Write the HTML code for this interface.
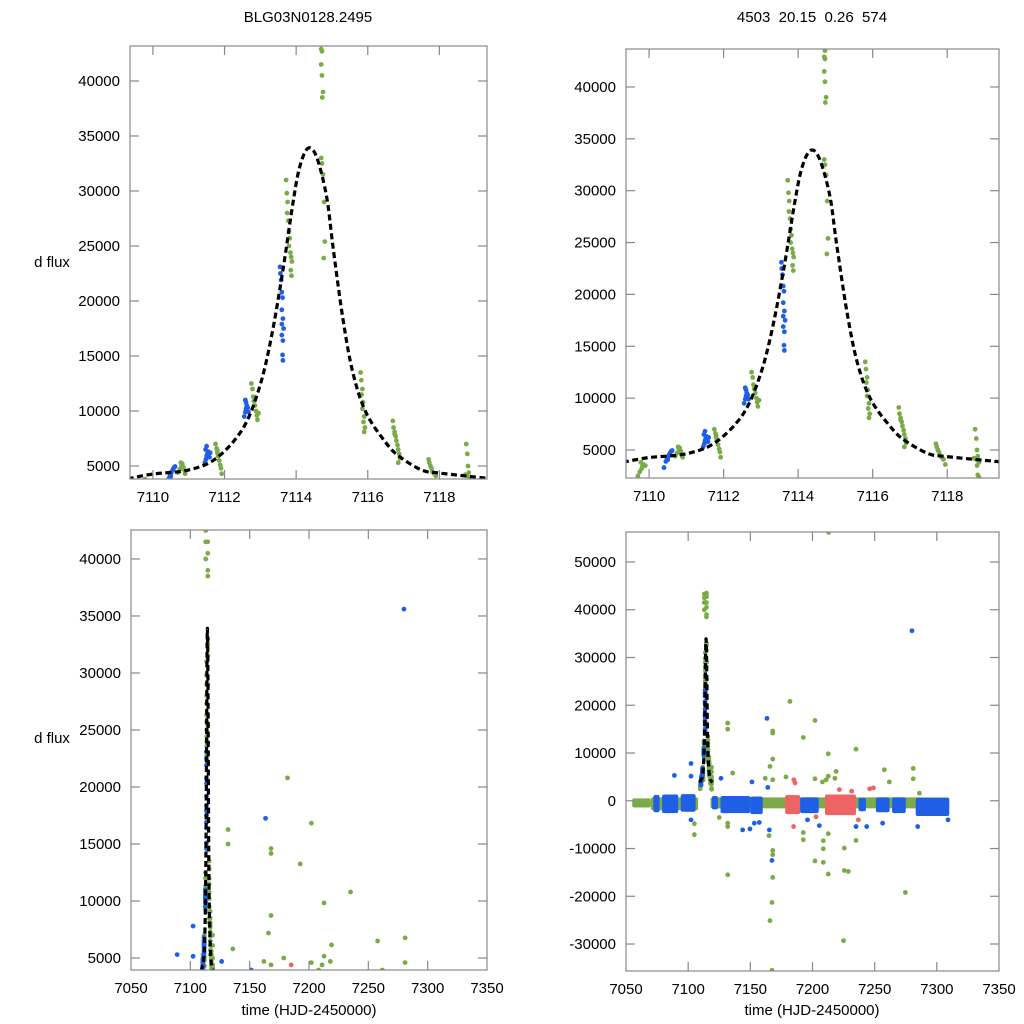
<!DOCTYPE html>
<html><head><meta charset="utf-8"><style>
html,body{margin:0;background:#fff;width:1024px;height:1024px;overflow:hidden}
svg{display:block;font-family:"Liberation Sans",sans-serif}
</style></head><body>
<svg id="chart" width="1024" height="1024" viewBox="0 0 1024 1024">
<rect width="1024" height="1024" fill="#fff"/>
<text x="308" y="22" text-anchor="middle" font-size="15">BLG03N0128.2495</text>
<text x="812" y="22" text-anchor="middle" font-size="15" xml:space="preserve">4503  20.15  0.26  574</text>
<text x="52" y="267" text-anchor="middle" font-size="15">d flux</text>
<text x="52" y="743" text-anchor="middle" font-size="15">d flux</text>
<text x="309" y="1015" text-anchor="middle" font-size="15">time (HJD-2450000)</text>
<text x="812" y="1015" text-anchor="middle" font-size="15">time (HJD-2450000)</text>
</svg>
<script>
// model curve
const modelT=[7109.3,7109.4,7110,7111,7111.78,7112.52,7112.98,7113.31,7113.63,7113.91,7114.1,7114.33,7114.57,7114.85,7115.03,7115.31,7115.59,7115.96,7116.52,7116.89,7117.5,7118,7119.3,7119.5];
const modelF=[3850,3900,4270,4640,5730,8450,12200,16750,22800,28900,32200,33880,33100,29500,24900,18300,13400,9800,7060,5850,4640,4360,3900,3850];
// event points (t,f)
const blueEvent=[[7110.40,3300],[7110.45,3900],[7110.48,4150],[7110.50,4300],[7110.52,4450],[7110.55,4600],[7110.57,4750],[7110.60,4900],[7110.62,4950],[7110.50,4050],
[7111.45,5300],[7111.48,5600],[7111.50,5900],[7111.52,6100],[7111.55,6300],[7111.47,6500],[7111.50,6800],[7111.58,5800],[7111.60,6200],
[7112.55,9500],[7112.58,9900],[7112.60,10200],[7112.62,10500],[7112.65,10300],[7112.60,10800],[7112.58,11000],[7112.67,9900],
[7113.55,23100],[7113.56,22500],[7113.58,21900],[7113.60,20800],[7113.62,20300],[7113.60,19200],[7113.63,18400],[7113.60,17900],[7113.65,17500],[7113.60,16900],[7113.63,16400],[7113.62,15100],[7113.63,14600]];
const greenEvent=[[7109.7,2500],[7109.75,2900],[7109.8,3200],[7109.82,3400],[7109.85,3600],[7109.78,3800],[7109.9,3500],
[7110.7,4400],[7110.75,4700],[7110.8,5000],[7110.82,5200],[7110.85,4900],[7110.88,4600],[7110.9,4300],[7110.78,5300],
[7111.75,7000],[7111.78,6600],[7111.8,6200],[7111.82,5900],[7111.85,5500],[7111.88,5100],[7111.9,4800],[7111.92,4300],[7111.8,6400],
[7112.75,12500],[7112.78,12000],[7112.8,11300],[7112.82,10900],[7112.85,10500],[7112.88,10000],[7112.9,9600],[7112.92,9200],[7112.95,9800],
[7113.72,31000],[7113.74,29800],[7113.76,29000],[7113.78,27300],[7113.8,26300],[7113.82,25700],[7113.8,25000],[7113.84,24400],[7113.86,24000],[7113.88,23600],[7113.85,22800],[7113.87,22300],[7113.75,28000],
[7114.72,43500],[7114.7,42900],[7114.72,42700],[7114.7,41500],[7114.72,40500],[7114.75,39000],[7114.73,38500],[7114.7,33000],[7114.72,32500],[7114.75,31500],[7114.78,29000],[7114.8,25400],[7114.77,23900],
[7115.8,13500],[7115.82,12800],[7115.85,12000],[7115.83,11500],[7115.87,10800],[7115.85,10200],[7115.9,9500],[7115.88,9000],[7115.92,8500],[7115.9,8100],
[7116.7,9100],[7116.72,8500],[7116.75,8100],[7116.78,7700],[7116.8,7300],[7116.83,6900],[7116.85,6500],[7116.88,6100],[7116.9,5700],[7116.85,5300],[7116.75,7900],
[7117.7,5600],[7117.72,5300],[7117.75,5000],[7117.78,4800],[7117.8,4500],[7117.85,4300],[7117.9,4100],[7117.95,3600],
[7118.75,7000],[7118.78,6100],[7118.8,5000],[7118.82,4400],[7118.78,4100],[7118.85,3800],[7118.8,3500],[7118.72,4200],[7118.82,2600],[7118.85,2400]];
// season outliers
const greenOut=[[7181.9,20800],[7131.8,16270],[7131.8,15000],[7202,16830],[7168,14170],[7168,14600],[7192.6,13250],[7212.7,9830],[7235,10800],[7168,8730],[7165.8,7190],[7135.8,5800],[7219,6150],[7257.8,6500],[7281,6770],[7281,4600],[7261.8,3950],[7162,4700],[7168,4400],[7178.7,5000],[7202,4600],[7212.7,5160],[7211,4400],[7218,4700],[7208,3950],[7286,1600],[7105,-4800],[7105,-7100],[7125,-3500],[7131.8,-4700],[7131.8,-5400],[7131.8,-15500],[7165,-7300],[7168,-10400],[7168,-11300],[7168,-16050],[7192.6,-8170],[7192.6,-6650],[7202,-12600],[7208.7,-12900],[7208.7,-10050],[7208.7,-8370],[7212.7,-6900],[7212.7,-15350],[7225.6,-9910],[7225.6,-14600],[7228.8,-14800],[7235,-8300],[7274.7,-19200],[7213,56200],[7167.4,-21300],[7165.8,-25100],[7167.4,-35500],[7225,-29300],[7113,40000],[7113,41500],[7113,42500],[7113,43300]];
const blueOut=[[7163.4,17250],[7102.3,7800],[7088.9,5300],[7102.3,5150],[7126.4,4700],[7151.3,3950],[7164,2800],[7102.3,-4000],[7143.8,-6100],[7149.7,-5900],[7153.2,-4700],[7157.2,-4550],[7165.3,-6100],[7167.4,-12500],[7196,-4000],[7205.5,-5200],[7235,-5400],[7243.6,-5400],[7256.4,-4700],[7284.6,-5400],[7309,-4000],[7280,35600]];
const redOut=[[7186,3730],[7185,4400],[7221.6,2330],[7231.5,2000],[7246,2500],[7249,2700],[7184.8,-5400],[7202.8,-3350],[7236.9,-4000]];
// baseline bands: [tStart,tEnd,fLow,fHigh]
const greenBands=[[7055,7070,-1400,500],[7070,7108,-2000,700],[7118,7310,-1600,700]];
const blueBands=[[7072,7077,-2400,1200],[7079,7092,-2600,1300],[7094,7106,-2300,1400],[7119,7124,-1800,1000],[7126,7150,-2600,1000],[7150,7160,-2800,900],[7190,7205,-2600,700],[7237,7243,-2200,600],[7251,7262,-2400,700],[7264,7275,-2600,700],[7283,7310,-3200,600]];
const redBands=[[7178,7190,-2800,1200],[7210,7235,-3000,1300]];
// axes ticks
const xTicksZoom=[7110,7112,7114,7116,7118];
const xTicksWide=[7050,7100,7150,7200,7250,7300,7350];
const yTicksTop=[5000,10000,15000,20000,25000,30000,35000,40000];
const yTicksBR=[-30000,-20000,-10000,0,10000,20000,30000,40000,50000];

const NS='http://www.w3.org/2000/svg';
const svg=document.getElementById('chart');
const GREEN='#7aab48',BLUE='#1f5fe6',RED='#ee6464';
function mk(tag,attrs,parent){const e=document.createElementNS(NS,tag);for(const k in attrs)e.setAttribute(k,attrs[k]);(parent||svg).appendChild(e);return e;}
function smooth(P){
  let d='M'+P[0][0].toFixed(2)+','+P[0][1].toFixed(2);
  for(let i=0;i<P.length-1;i++){
    const p0=P[Math.max(0,i-1)],p1=P[i],p2=P[i+1],p3=P[Math.min(P.length-1,i+2)];
    const c1=[p1[0]+(p2[0]-p0[0])/6,p1[1]+(p2[1]-p0[1])/6];
    const c2=[p2[0]-(p3[0]-p1[0])/6,p2[1]-(p3[1]-p1[1])/6];
    d+=' C'+c1.map(v=>v.toFixed(2))+' '+c2.map(v=>v.toFixed(2))+' '+p2.map(v=>v.toFixed(2));
  }
  return d;
}
function panel(id,L,R,T,B,x0,x1,y0,y1,xt,yt,opts){
  const sx=t=>L+(t-x0)/(x1-x0)*(R-L);
  const sy=f=>B-(f-y0)/(y1-y0)*(B-T);
  const clampY=v=>Math.max(T,Math.min(B,v));
  const g=mk('g',{});
  
  
  const cp=mk('clipPath',{id:'cp-'+id},g);
  mk('rect',{x:L,y:T,width:R-L,height:B-T},cp);
  const plot=mk('g',{'clip-path':'url(#cp-'+id+')'},g);
  if(opts.bands){
    [[greenBands,GREEN],[blueBands,BLUE],[redBands,RED]].forEach(([arr,c])=>{
      arr.forEach(b=>{
        if(b[3]<y0||b[2]>y1)return;
        const ya=clampY(sy(b[3])),yb=clampY(sy(b[2]));
        const r=mk('rect',{x:sx(b[0]),y:ya,width:sx(b[1])-sx(b[0]),height:yb-ya,rx:2,fill:c},plot);
        
        
      });
    });
  }
  const sets=[[greenEvent,GREEN],[blueEvent,BLUE]];
  if(opts.outliers){sets.push([greenOut,GREEN],[blueOut,BLUE],[redOut,RED]);}
  const pad=(y1-y0)*0.006;
  sets.forEach(([arr,c])=>arr.forEach(p=>{
    if(p[1]<y0-pad||p[1]>y1+pad||p[0]<x0||p[0]>x1)return;
    const d=mk('circle',{cx:sx(p[0]),cy:sy(p[1]),r:2.4,fill:c},plot);
    
    
  }));
  const P=modelT.map((t,i)=>[sx(t),sy(modelF[i])]);
  const ml=mk('path',{d:smooth(P),fill:'none',stroke:'#000','stroke-width':3.2,'stroke-dasharray':'6,3.5'},plot);
  
  
  const fr=mk('rect',{x:L,y:T,width:R-L,height:B-T,fill:'none',stroke:'#888','stroke-width':1.2},g);
  
  
  xt.forEach(v=>{
    const x=sx(v);
    if(x>L+1&&x<R-1){
      mk('line',{x1:x,y1:B,x2:x,y2:B-9,stroke:'#888','stroke-width':1.2},g);
      mk('line',{x1:x,y1:T,x2:x,y2:T+9,stroke:'#888','stroke-width':1.2},g);
    }
    const tl=mk('text',{x:x,y:B+23,'text-anchor':'middle','font-size':15},g);
    tl.textContent=v;
    
    
  });
  yt.forEach(v=>{
    const y=sy(v);
    mk('line',{x1:L,y1:y,x2:L+9,y2:y,stroke:'#888','stroke-width':1.2},g);
    mk('line',{x1:R,y1:y,x2:R-9,y2:y,stroke:'#888','stroke-width':1.2},g);
    const tl=mk('text',{x:L-10,y:y+5,'text-anchor':'end','font-size':15},g);
    tl.textContent=v;
    
    
  });
}
panel('top-left',130,487,46,479,7109.36,7119.33,3818,43180,xTicksZoom,yTicksTop,{});
panel('top-right',626,999,49,478,7109.38,7119.39,2300,43660,xTicksZoom,yTicksTop,{});
panel('bottom-left',131,487,530,970,7050,7350,3950,42540,xTicksWide,yTicksTop,{outliers:true,bands:true});
panel('bottom-right',626,999,532,971,7050,7350,-35650,56280,xTicksWide,yTicksBR,{outliers:true,bands:true});
</script>
</body></html>
